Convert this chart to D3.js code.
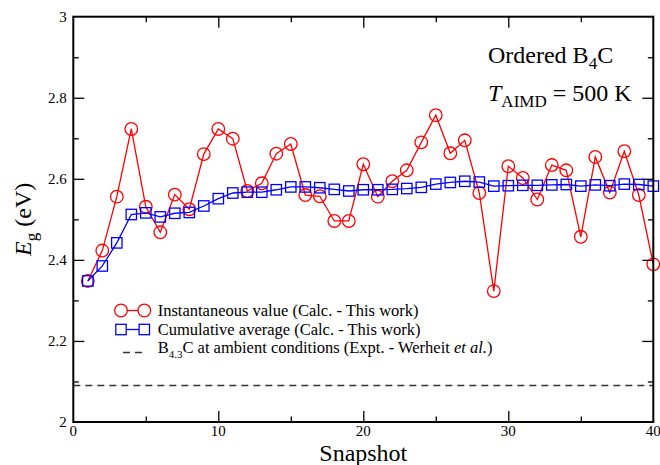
<!DOCTYPE html>
<html>
<head>
<meta charset="utf-8">
<script src="https://cdn.jsdelivr.net/npm/d3@7"></script>
<style>
    body { margin: 0; background: #fff; }
    svg { display: block; }
    svg text { font-family: "Liberation Serif", "Times New Roman", Times, "DejaVu Serif", serif; }
</style>
</head>
<body>
<div id="chart"></div>
<script>
// snapshot index on the x axis
const snapshots = [1, 2, 3, 4, 5, 6, 7, 8, 9, 10, 11, 12, 13, 14, 15, 16, 17, 18, 19, 20,
    21, 22, 23, 24, 25, 26, 27, 28, 29, 30, 31, 32, 33, 34, 35, 36, 37, 38, 39, 40];

// instantaneous band gap (eV)
const instValues = [2.348, 2.423, 2.556, 2.723, 2.531, 2.468, 2.561, 2.525, 2.661, 2.723,
    2.699, 2.570, 2.589, 2.662, 2.686, 2.560, 2.557, 2.496, 2.496, 2.636,
    2.556, 2.594, 2.621, 2.690, 2.757, 2.663, 2.695, 2.565, 2.323, 2.631,
    2.602, 2.549, 2.634, 2.621, 2.457, 2.654, 2.566, 2.668, 2.560, 2.389];

// cumulative average (eV)
const cumValues = [2.348, 2.385, 2.442, 2.512, 2.516, 2.506, 2.515, 2.517, 2.533, 2.551,
    2.565, 2.567, 2.567, 2.573, 2.580, 2.580, 2.578, 2.574, 2.570, 2.573,
    2.573, 2.574, 2.576, 2.579, 2.587, 2.591, 2.594, 2.592, 2.582, 2.583,
    2.584, 2.584, 2.585, 2.586, 2.582, 2.585, 2.583, 2.587, 2.586, 2.582];

// experimental reference (Werheit et al.)
const exptValue = 2.09;

const xMajorTicks = [0, 10, 20, 30, 40];
const xMinorTicks = [5, 15, 25, 35];
const yMajorTicks = [2, 2.2, 2.4, 2.6, 2.8, 3];
const yMinorTicks = [2.1, 2.3, 2.5, 2.7, 2.9];

const serif = "Liberation Serif, Times New Roman, Times, DejaVu Serif, serif";

const width = 660, height = 465;
const margin = {top: 16.7, right: 6.7, bottom: 43, left: 73.3};
const plotW = width - margin.left - margin.right;
const plotH = height - margin.top - margin.bottom;

const svg = d3.select("#chart").append("svg")
    .attr("width", width)
    .attr("height", height)
    .attr("font-family", serif);

const x = d3.scaleLinear().domain([0, 40]).range([0, plotW]);
const y = d3.scaleLinear().domain([2, 3]).range([plotH, 0]);

const g = svg.append("g").attr("transform", `translate(${margin.left},${margin.top})`);

// ticks on all four sides, pointing in
function addTicks(scaleFn, ticks, len, orient) {
    let sel;
    if (orient === "bottom") sel = d3.axisBottom(scaleFn);
    else if (orient === "top") sel = d3.axisTop(scaleFn);
    else if (orient === "left") sel = d3.axisLeft(scaleFn);
    else sel = d3.axisRight(scaleFn);
    sel.tickValues(ticks).tickSize(-len).tickFormat("");
    let tr = "";
    if (orient === "bottom") tr = `translate(0,${plotH})`;
    if (orient === "right") tr = `translate(${plotW},0)`;
    const ax = g.append("g").attr("transform", tr).call(sel);
    ax.select(".domain").remove();
    ax.selectAll("line").attr("stroke", "#000").attr("stroke-width", 1.3);
}

addTicks(x, xMajorTicks.slice(1, -1), 11, "bottom");
addTicks(x, xMinorTicks, 5.5, "bottom");
addTicks(x, xMajorTicks.slice(1, -1), 11, "top");
addTicks(x, xMinorTicks, 5.5, "top");
addTicks(y, yMajorTicks.slice(1, -1), 11, "left");
addTicks(y, yMinorTicks, 5.5, "left");
addTicks(y, yMajorTicks.slice(1, -1), 11, "right");
addTicks(y, yMinorTicks, 5.5, "right");

// tick labels
g.selectAll(".xlab").data(xMajorTicks).enter().append("text")
    .attr("x", d => x(d))
    .attr("y", plotH + 14)
    .attr("text-anchor", "middle")
    .attr("font-size", 15)
    .text(d => d);

g.selectAll(".ylab").data(yMajorTicks).enter().append("text")
    .attr("x", -6.5)
    .attr("y", d => y(d) + 5)
    .attr("text-anchor", "end")
    .attr("font-size", 15)
    .text(d => d3.format("")(d));

// experimental line
g.append("line")
    .attr("x1", 0).attr("x2", plotW)
    .attr("y1", y(exptValue)).attr("y2", y(exptValue))
    .attr("stroke", "#333")
    .attr("stroke-width", 1.5)
    .attr("stroke-dasharray", "7,5");

const pts = snapshots.map((s, i) => ({s: s, inst: instValues[i], cum: cumValues[i]}));

// instantaneous
g.append("path").datum(pts)
    .attr("fill", "none")
    .attr("stroke", "#f00")
    .attr("stroke-width", 1.3)
    .attr("d", d3.line().x(d => x(d.s)).y(d => y(d.inst)));

g.selectAll(".circ").data(pts).enter().append("circle")
    .attr("cx", d => x(d.s))
    .attr("cy", d => y(d.inst))
    .attr("r", 6.3)
    .attr("fill", "none")
    .attr("stroke", "#f00")
    .attr("stroke-width", 1.3);

// cumulative
g.append("path").datum(pts)
    .attr("fill", "none")
    .attr("stroke", "#00f")
    .attr("stroke-width", 1.3)
    .attr("d", d3.line().x(d => x(d.s)).y(d => y(d.cum)));

g.selectAll(".sq").data(pts).enter().append("rect")
    .attr("x", d => x(d.s) - 5.2)
    .attr("y", d => y(d.cum) - 5.2)
    .attr("width", 10.4)
    .attr("height", 10.4)
    .attr("fill", "none")
    .attr("stroke", "#00f")
    .attr("stroke-width", 1.3);

// frame
g.append("rect")
    .attr("width", plotW)
    .attr("height", plotH)
    .attr("fill", "none")
    .attr("stroke", "#000")
    .attr("stroke-width", 2);

// legend
const lg = svg.append("g");
const legX1 = 121, legX2 = 144.3, textX = 157.7;
const rowsY = [310.5, 329.5, 348.5];

lg.append("line").attr("x1", legX1).attr("x2", legX2).attr("y1", rowsY[0]).attr("y2", rowsY[0])
    .attr("stroke", "#f00").attr("stroke-width", 1.3);
[legX1, legX2].forEach(cx => {
    lg.append("circle").attr("cx", cx).attr("cy", rowsY[0]).attr("r", 6.3)
        .attr("fill", "#fff").attr("stroke", "#f00").attr("stroke-width", 1.3);
});
lg.append("line").attr("x1", legX1).attr("x2", legX2).attr("y1", rowsY[1]).attr("y2", rowsY[1])
    .attr("stroke", "#00f").attr("stroke-width", 1.3);
[legX1, legX2].forEach(cx => {
    lg.append("rect").attr("x", cx - 5.2).attr("y", rowsY[1] - 5.2).attr("width", 10.4).attr("height", 10.4)
        .attr("fill", "#fff").attr("stroke", "#00f").attr("stroke-width", 1.3);
});
lg.append("line").attr("x1", 123).attr("x2", 144).attr("y1", rowsY[2] + 4).attr("y2", rowsY[2] + 4)
    .attr("stroke", "#333").attr("stroke-width", 1.5).attr("stroke-dasharray", "7,5");

lg.append("text").attr("x", textX).attr("y", rowsY[0] + 5).attr("font-size", 16.5)
    .text("Instantaneous value (Calc. - This work)");
lg.append("text").attr("x", textX).attr("y", rowsY[1] + 5).attr("font-size", 16.5)
    .text("Cumulative average (Calc. - This work)");
const t3 = lg.append("text").attr("x", textX).attr("y", rowsY[2] + 4).attr("font-size", 16.5);
t3.append("tspan").text("B");
t3.append("tspan").attr("font-size", 11).attr("dy", 5).text("4.3");
t3.append("tspan").attr("dy", -5).text("C at ambient conditions (Expt. - Werheit ");
t3.append("tspan").attr("font-style", "italic").text("et al.");
t3.append("tspan").text(")");

// annotation
const a1 = svg.append("text").attr("x", 488).attr("y", 63.3).attr("font-size", 24);
a1.append("tspan").text("Ordered B");
a1.append("tspan").attr("font-size", 17).attr("dy", 6).text("4");
a1.append("tspan").attr("dy", -6).text("C");

const a2 = svg.append("text").attr("x", 488).attr("y", 101).attr("font-size", 24);
a2.append("tspan").attr("font-style", "italic").text("T");
a2.append("tspan").attr("font-size", 17).attr("dy", 6).text("AIMD");
a2.append("tspan").attr("dy", -6).text(" = 500 K");

// axis titles
svg.append("text")
    .attr("x", margin.left + plotW / 2)
    .attr("y", 461)
    .attr("text-anchor", "middle")
    .attr("font-size", 24)
    .text("Snapshot");

const yt = svg.append("text")
    .attr("transform", `translate(31,${margin.top + plotH / 2}) rotate(-90)`)
    .attr("text-anchor", "middle")
    .attr("font-size", 24);
yt.append("tspan").attr("font-style", "italic").text("E");
yt.append("tspan").attr("font-size", 17).attr("dy", 6).text("g");
yt.append("tspan").attr("dy", -6).text(" (eV)");
</script>
</body>
</html>
